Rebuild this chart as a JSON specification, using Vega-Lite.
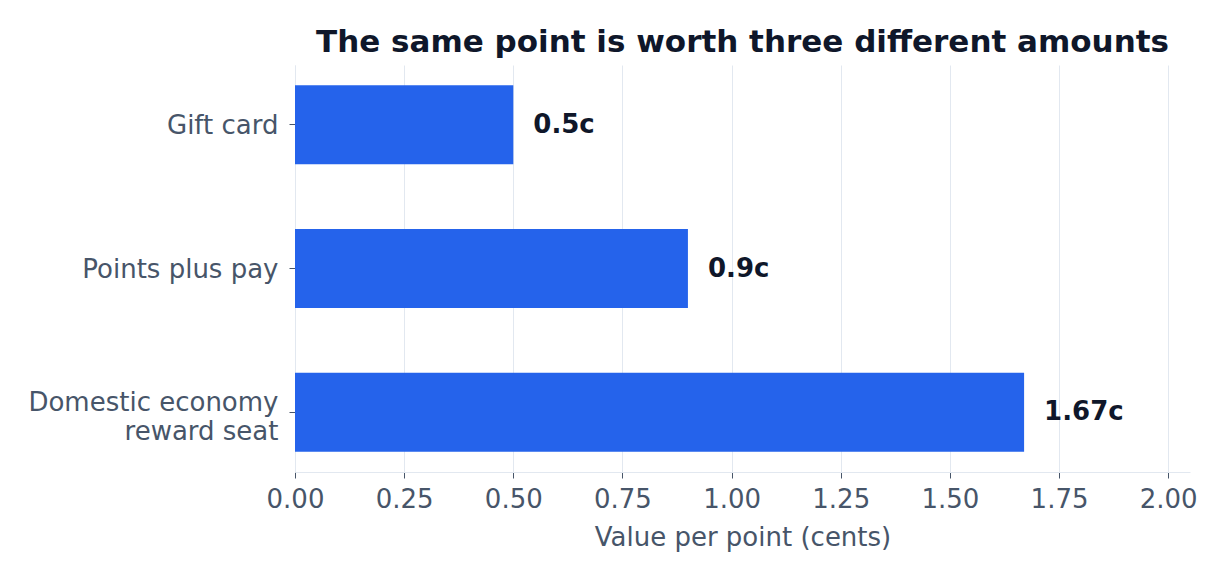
{
  "$schema": "https://vega.github.io/schema/vega-lite/v6.json",
  "autosize": "none",
  "width": 895,
  "height": 407,
  "padding": {"left": 295, "top": 65, "right": 34, "bottom": 106},
  "background": "white",
  "config": {
    "font": "DejaVu Sans",
    "view": {"stroke": null}
  },
  "title": {
    "text": "The same point is worth three different amounts",
    "fontSize": 31,
    "fontWeight": "bold",
    "color": "#0f172a",
    "anchor": "middle",
    "offset": 6
  },
  "data": {
    "values": [
      {"method": "Gift card", "value": 0.5, "label": "0.5c"},
      {"method": "Points plus pay", "value": 0.9, "label": "0.9c"},
      {"method": "Domestic economy|reward seat", "value": 1.67, "label": "1.67c"}
    ]
  },
  "encoding": {
    "y": {
      "field": "method",
      "type": "nominal",
      "sort": null,
      "scale": {"paddingInner": 0.45, "paddingOuter": 0.14},
      "axis": {
        "title": null,
        "labelExpr": "split(datum.label, '|')",
        "labelFontSize": 26,
        "labelColor": "#475569",
        "labelLineHeight": 29,
        "labelLimit": 400,
        "labelPadding": 11,
        "labelOffset": {"expr": "indexof(datum.value, '|') >= 0 ? -9 : 1"},
        "tickColor": "#475569",
        "tickSize": 6,
        "domainColor": "#e2e8f0",
        "grid": false
      }
    },
    "x": {
      "field": "value",
      "type": "quantitative",
      "scale": {"domain": [0, 2.05], "nice": false},
      "axis": {
        "title": "Value per point (cents)",
        "values": [0, 0.25, 0.5, 0.75, 1, 1.25, 1.5, 1.75, 2],
        "format": ".2f",
        "labelFlush": false,
        "labelFontSize": 26,
        "labelColor": "#475569",
        "labelPadding": 8,
        "titleFontSize": 26,
        "titleFontWeight": "normal",
        "titleColor": "#475569",
        "titlePadding": 12,
        "tickColor": "#475569",
        "tickSize": 6,
        "domainColor": "#e2e8f0",
        "gridColor": "#e2e8f0"
      }
    }
  },
  "layer": [
    {"mark": {"type": "bar", "color": "#2563eb"}},
    {
      "mark": {"type": "text", "align": "left", "baseline": "middle", "dx": 20, "fontSize": 26, "fontWeight": "bold", "color": "#0f172a"},
      "encoding": {"text": {"field": "label"}}
    }
  ]
}
